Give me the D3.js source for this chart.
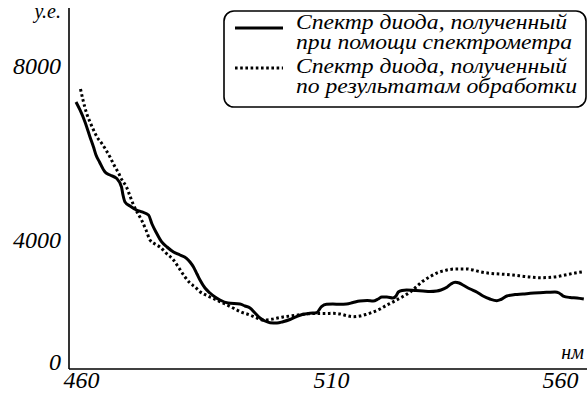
<!DOCTYPE html>
<html>
<head>
<meta charset="utf-8">
<script src="https://cdn.jsdelivr.net/npm/d3@7"></script>
<style>
  html, body { margin: 0; padding: 0; background: #fff; }
  svg { display: block; }
</style>
</head>
<body>
<svg id="chart" width="588" height="396"></svg>
<script>
// Wavelength, nm
const xTicks = [460, 510, 560];
// Intensity, arbitrary units
const yTicks = [0, 4000, 8000];

// Spectrometer measurement
const measuredNm = [459.0, 459.8, 460.8, 461.8, 462.5, 463.0, 463.7, 464.8, 465.8, 467.1,
  468.1, 468.4, 468.8, 469.8, 471.1, 472.2, 473.5, 474.2, 475.1, 476.1,
  477.2, 478.5, 479.8, 481.1, 481.8, 482.5, 483.2, 483.8, 484.8, 485.8,
  486.8, 487.8, 489.4, 491.8, 492.8, 493.8, 494.8, 495.8, 496.8, 497.8,
  499.2, 500.4, 501.8, 503.1, 504.4, 505.8, 507.1, 508.1, 509.1, 510.4,
  512.0, 513.4, 514.8, 516.3, 517.9, 519.2, 520.3, 521.1, 522.2, 523.5,
  524.2, 524.7, 525.5, 526.5, 528.3, 530.1, 531.6, 533.1, 534.0, 535.3,
  536.2, 537.1, 538.0, 538.8, 540.4, 541.9, 543.2, 544.7, 546.2, 547.1,
  548.4, 550.2, 551.9, 553.5, 555.6, 557.4, 558.9, 559.8, 560.7, 562.2,
  563.7, 565.2];
const measuredVal = [7333, 7150, 6874, 6529, 6299, 6115, 5954, 5724, 5655, 5579,
  5379, 5195, 5035, 4943, 4851, 4805, 4736, 4529, 4322, 4122,
  4000, 3836, 3738, 3630, 3508, 3344, 3115, 2918, 2656, 2492,
  2361, 2262, 2164, 2131, 2066, 2000, 1836, 1672, 1574, 1518,
  1508, 1551, 1623, 1715, 1793, 1826, 1846, 2043, 2121, 2131,
  2121, 2131, 2180, 2230, 2246, 2230, 2295, 2361, 2361, 2328,
  2393, 2525, 2574, 2590, 2574, 2557, 2541, 2557, 2590, 2679,
  2787, 2843, 2820, 2754, 2623, 2515, 2393, 2295, 2239, 2279,
  2393, 2443, 2459, 2482, 2502, 2515, 2525, 2492, 2393, 2344,
  2328, 2295];

// Spectrum reconstructed by processing
const processedNm = [459.9, 460.4, 461.1, 461.8, 462.5, 463.2, 464.1, 465.0, 465.8, 466.6,
  467.5, 468.2, 469.1, 469.8, 470.5, 471.2, 472.1, 473.0, 473.8, 474.8,
  475.8, 477.0, 478.5, 479.6, 480.8, 481.8, 482.8, 483.8, 485.4, 487.1,
  488.8, 490.4, 492.0, 493.8, 495.2, 496.5, 497.8, 499.1, 500.4, 501.8,
  503.4, 505.1, 506.4, 507.8, 509.0, 510.4, 512.0, 513.3, 514.8, 516.3,
  517.6, 519.2, 520.7, 522.2, 523.1, 524.3, 525.7, 527.3, 528.6, 530.1,
  531.6, 533.4, 535.3, 537.3, 539.7, 541.0, 542.5, 544.7, 546.9, 549.7,
  552.4, 555.6, 557.4, 559.3, 561.1, 563.3, 565.2];
const processedVal = [7632, 7379, 7081, 6874, 6690, 6529, 6391, 6230, 6069, 5885,
  5701, 5540, 5379, 5172, 4966, 4805, 4621, 4391, 4161, 4069,
  4000, 3803, 3574, 3311, 3016, 2820, 2689, 2534, 2393, 2262,
  2131, 2000, 1869, 1770, 1672, 1607, 1623, 1662, 1705, 1738,
  1770, 1803, 1820, 1820, 1820, 1826, 1803, 1754, 1715, 1738,
  1787, 1869, 1967, 2098, 2164, 2262, 2377, 2525, 2689, 2885,
  3026, 3164, 3246, 3279, 3279, 3246, 3190, 3138, 3115, 3082,
  3033, 2993, 3000, 3026, 3082, 3148, 3190];

const legendLabels = [
  ["Спектр диода, полученный", "при помощи спектрометра"],
  ["Спектр диода, полученный", "по результатам обработки"]
];

const FONT = "Liberation Serif";

const svg = d3.select("#chart");

// Italic serif text helper
function serif(sel, size) {
  return sel
    .attr("font-family", FONT)
    .attr("font-style", "italic")
    .attr("font-size", size)
    .attr("fill", "#000");
}

// Frame: axis origin and extents
const originX = 69, originY = 369, axisTop = 8, axisRight = 587;

const x = d3.scaleLinear().domain(xTicks).range([81, 331, 560]);
const y = d3.scaleLinear().domain(yTicks).range([originY, 247, 73]);

const series = [
  { nm: measuredNm, val: measuredVal, dash: null },
  { nm: processedNm, val: processedVal, dash: "2.6,2.6" }
];

const line = d3.line()
  .x(d => x(d[0]))
  .y(d => y(d[1]))
  .curve(d3.curveMonotoneX);

series.forEach(s => {
  svg.append("path")
    .datum(s.nm.map((v, i) => [v, s.val[i]]))
    .attr("d", line)
    .attr("fill", "none")
    .attr("stroke", "#000")
    .attr("stroke-width", 3)
    .attr("stroke-linejoin", "round")
    .attr("stroke-dasharray", s.dash);
});

// Axis lines
svg.append("line")
  .attr("x1", originX).attr("x2", originX)
  .attr("y1", axisTop).attr("y2", originY)
  .attr("stroke", "#000").attr("stroke-width", 1.6);
svg.append("line")
  .attr("x1", originX).attr("x2", axisRight)
  .attr("y1", originY).attr("y2", originY)
  .attr("stroke", "#000").attr("stroke-width", 1.6);

// Tick labels
function styleTicks(g) {
  g.select(".domain").remove();
  g.attr("font-family", FONT).attr("font-size", 24);
  g.selectAll("text")
    .attr("dy", 0)
    .call(serif, 24);
}

svg.append("g")
  .attr("transform", `translate(${originX},0)`)
  .call(d3.axisLeft(y).tickValues(yTicks).tickSize(0).tickPadding(8).tickFormat(d3.format("d")))
  .call(styleTicks);

svg.append("g")
  .attr("transform", `translate(0,${originY})`)
  .call(d3.axisBottom(x).tickValues(xTicks).tickSize(0).tickPadding(19).tickFormat(d3.format("d")))
  .call(styleTicks);

// Unit labels
svg.append("text")
  .attr("x", 61).attr("y", 18)
  .attr("text-anchor", "end")
  .call(serif, 20)
  .text("у.е.");
svg.append("text")
  .attr("x", 584).attr("y", 359)
  .attr("text-anchor", "end")
  .call(serif, 20)
  .text("нм");

// Legend
const legend = svg.append("g");
legend.append("rect")
  .attr("x", 224).attr("y", 11)
  .attr("width", 362).attr("height", 96)
  .attr("rx", 10).attr("ry", 10)
  .attr("fill", "#fff")
  .attr("stroke", "#000")
  .attr("stroke-width", 1.6);

const legendRows = [
  { lineY: 28, baselines: [29, 49], widths: [271, 276] },
  { lineY: 68, baselines: [73, 93], widths: [271, 281] }
];

legendRows.forEach((row, i) => {
  legend.append("line")
    .attr("x1", 235).attr("x2", 283)
    .attr("y1", row.lineY).attr("y2", row.lineY)
    .attr("stroke", "#000")
    .attr("stroke-width", 3)
    .attr("stroke-dasharray", series[i].dash);
  legendLabels[i].forEach((label, j) => {
    legend.append("text")
      .attr("x", 296).attr("y", row.baselines[j])
      .attr("textLength", row.widths[j])
      .attr("lengthAdjust", "spacingAndGlyphs")
      .call(serif, 20)
      .text(label);
  });
});
</script>
</body>
</html>
